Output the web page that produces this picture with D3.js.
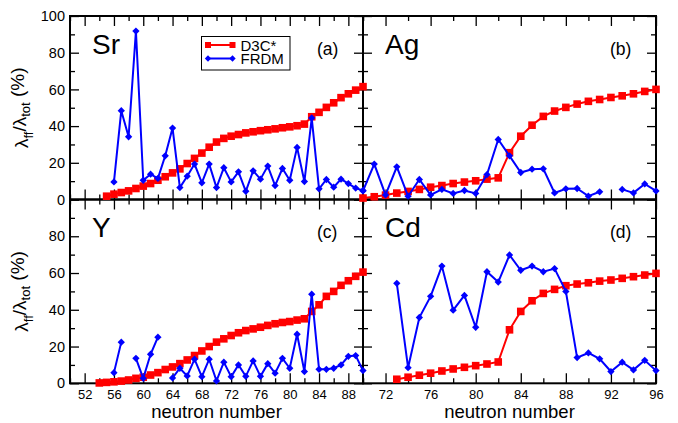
<!DOCTYPE html>
<html>
<head>
<meta charset="utf-8">
<script src="https://cdn.jsdelivr.net/npm/d3@7"></script>
<style>
  html, body { margin: 0; padding: 0; background: #fff; }
  svg { display: block; font-family: "Liberation Sans", Arial, Helvetica, sans-serif; }
</style>
</head>
<body>
<svg id="chart" width="678" height="423"></svg>
<script>
// ---------- DATA ----------
const seriesNames = ["D3C*", "FRDM"];
const panelNames = ["Sr", "Ag", "Y", "Cd"];
const panelTags = ["(a)", "(b)", "(c)", "(d)"];

const srD3cN = [55,56,57,58,59,60,61,62,63,64,65,66,67,68,69,70,71,72,73,74,75,76,77,78,79,80,81,82,83,84,85,86,87,88,89,90];
const srD3c = [1.8,2.9,3.8,4.7,6.0,7.3,8.7,10.5,12.4,14.5,16.7,19.6,22.4,25.3,28.5,31.3,33.3,34.5,35.4,36.3,36.9,37.5,38.0,38.5,39.1,39.6,40.2,41.1,45.1,47.5,50.2,52.7,55.5,57.6,59.6,61.5];
const srFrdmN = [56,57,58,59,60,61,62,63,64,65,66,67,68,69,70,71,72,73,74,75,76,77,78,79,80,81,82,83,84,85,86,87,88,89,90];
const srFrdm = [9.6,48.4,34.2,91.8,10.5,13.8,11.5,23.8,38.9,6.5,12.7,19.3,9.1,19.3,6.5,17.3,9.6,15.1,4.5,15.6,11.1,18.2,7.6,16.9,10.5,28.4,9.8,44.4,5.8,10.9,6.7,11.1,8.7,6.2,4.9];

const agD3cN = [70,71,72,73,74,75,76,77,78,79,80,81,82,83,84,85,86,87,88,89,90,91,92,93,94,95,96];
const agD3c = [0.8,1.5,2.4,3.5,4.4,5.5,6.7,7.6,8.7,9.5,10.2,11.1,11.8,25.5,34.5,40.5,45.3,48.2,50.2,52.0,53.5,54.5,55.6,56.5,57.6,58.9,60.0];
const agFrdmN = [70,71,72,73,74,75,76,77,78,79,80,81,82,83,84,85,86,87,88,89,90,91,92,93,94,95,96];
const agFrdm = [4.7,19.3,2.5,17.8,1.8,10.9,2.5,5.5,3.3,4.9,3.3,13.6,32.7,23.8,14.7,16.5,16.7,3.6,5.8,6.0,1.8,4.2,null,5.5,3.6,8.5,4.7];

const yD3cN = [54,55,56,57,58,59,60,61,62,63,64,65,66,67,68,69,70,71,72,73,74,75,76,77,78,79,80,81,82,83,84,85,86,87,88,89,90];
const yD3c = [0.2,0.5,0.8,1.2,1.8,2.7,3.3,4.5,5.8,7.5,8.9,10.7,12.7,15.1,17.6,20.0,22.4,24.2,26.0,27.5,28.7,29.6,30.5,31.5,32.4,33.1,33.6,34.4,35.1,39.1,42.7,47.3,50.0,53.3,55.8,58.2,60.5];
const yFrdmN = [56,57,58,59,60,61,62,63,64,65,66,67,68,69,70,71,72,73,74,75,76,77,78,79,80,81,82,83,84,85,86,87,88,89,90];
const yFrdm = [5.8,22.4,null,13.6,2.7,15.8,25.1,null,2.9,8.2,4.0,13.1,3.6,13.1,1.3,11.5,3.6,10.0,3.8,12.2,3.8,10.7,5.5,13.6,8.2,26.7,6.4,48.5,7.6,7.6,8.2,10.0,14.7,15.1,6.9];

const cdD3cN = [73,74,75,76,77,78,79,80,81,82,83,84,85,86,87,88,89,90,91,92,93,94,95,96];
const cdD3c = [2.2,3.3,4.4,5.5,6.7,7.8,8.7,9.6,10.5,11.6,29.1,39.1,44.9,48.9,51.1,53.1,54.0,54.7,55.6,56.2,57.1,58.0,58.9,59.8];
const cdFrdmN = [73,74,75,76,77,78,79,80,81,82,83,84,85,86,87,88,89,90,91,92,93,94,95,96];
const cdFrdm = [54.4,8.5,35.8,47.3,63.8,39.8,47.8,30.5,60.7,55.1,69.8,61.5,63.8,60.7,62.4,50.0,14.0,16.5,13.3,6.4,11.5,7.3,12.5,6.9];

const leftXTicksMajor = [52,56,60,64,68,72,76,80,84,88];
const leftXTicksMinor = [50,54,58,62,66,70,74,78,82,86,90];
const rightXTicksMajor = [72,76,80,84,88,92,96];
const rightXTicksMinor = [70,74,78,82,86,90,94];
const yTicksMajor = [0,20,40,60,80,100];
const yTicksMinor = [10,30,50,70,90];
const xTitle = "neutron number";

// ---------- LAYOUT ----------
const svg = d3.select("#chart");
const L = { x0: 70, x1: 363, x2: 656, y0: 16, y1: 199.5, y2: 383.3 };
const RED = "#ff0000", BLUE = "#0000ff";

const xLeft = d3.scaleLinear().domain([50, 90]).range([L.x0, L.x1]);
const xRight = d3.scaleLinear().domain([70, 96]).range([L.x1, L.x2]);
const yTop = d3.scaleLinear().domain([0, 100]).range([L.y1, L.y0]);
const yBot = d3.scaleLinear().domain([0, 100]).range([L.y2, L.y1]);

const panels = [
  { name: panelNames[0], tag: panelTags[0], x: xLeft, y: yTop, d3cN: srD3cN, d3c: srD3c, fN: srFrdmN, f: srFrdm, left: true, bottom: false, top100: true },
  { name: panelNames[1], tag: panelTags[1], x: xRight, y: yTop, d3cN: agD3cN, d3c: agD3c, fN: agFrdmN, f: agFrdm, left: false, bottom: false },
  { name: panelNames[2], tag: panelTags[2], x: xLeft, y: yBot, d3cN: yD3cN, d3c: yD3c, fN: yFrdmN, f: yFrdm, left: true, bottom: true, top100: false },
  { name: panelNames[3], tag: panelTags[3], x: xRight, y: yBot, d3cN: cdD3cN, d3c: cdD3c, fN: cdFrdmN, f: cdFrdm, left: false, bottom: true }
];

const majorLen = 10, minorLen = 5, yMajorLen = 9, yMinorLen = 5;

function styleAxis(g, showLabels, fs) {
  g.select(".domain").remove();
  g.selectAll(".tick line").attr("stroke", "#000").attr("stroke-width", 1.3);
  g.selectAll(".tick text").attr("fill", "#000").style("font-size", fs + "px");
  if (!showLabels) g.selectAll(".tick text").remove();
}

panels.forEach(p => {
  const [xa, xb] = p.x.range();
  const [yb, ya] = p.y.range();
  const g = svg.append("g");

  // bottom axis (ticks inward)
  const gb = g.append("g").attr("transform", `translate(0,${yb})`);
  gb.call(d3.axisBottom(p.x).tickValues(p.left ? leftXTicksMajor : rightXTicksMajor)
      .tickSize(-majorLen).tickPadding(6).tickFormat(d3.format("d")));
  styleAxis(gb, p.bottom, 13);
  const gbm = g.append("g").attr("transform", `translate(0,${yb})`);
  gbm.call(d3.axisBottom(p.x).tickValues(p.left ? leftXTicksMinor : rightXTicksMinor).tickSize(-minorLen).tickFormat(""));
  styleAxis(gbm, false, 13);

  // top axis
  const gt = g.append("g").attr("transform", `translate(0,${ya})`);
  gt.call(d3.axisTop(p.x).tickValues(p.left ? leftXTicksMajor : rightXTicksMajor).tickSize(-majorLen).tickFormat(""));
  styleAxis(gt, false, 13);
  const gtm = g.append("g").attr("transform", `translate(0,${ya})`);
  gtm.call(d3.axisTop(p.x).tickValues(p.left ? leftXTicksMinor : rightXTicksMinor).tickSize(-minorLen).tickFormat(""));
  styleAxis(gtm, false, 13);

  // left axis
  const yLabels = p.left ? (p.top100 ? yTicksMajor : yTicksMajor.filter(v => v < 100)) : [];
  const gl = g.append("g").attr("transform", `translate(${xa},0)`);
  gl.call(d3.axisLeft(p.y).tickValues(yTicksMajor).tickSize(-yMajorLen).tickPadding(5)
      .tickFormat(v => yLabels.includes(v) ? d3.format("d")(v) : ""));
  styleAxis(gl, p.left, 14.5);
  const glm = g.append("g").attr("transform", `translate(${xa},0)`);
  glm.call(d3.axisLeft(p.y).tickValues(yTicksMinor).tickSize(-yMinorLen).tickFormat(""));
  styleAxis(glm, false, 14.5);

  // right axis
  const gr = g.append("g").attr("transform", `translate(${xb},0)`);
  gr.call(d3.axisRight(p.y).tickValues(yTicksMajor).tickSize(-yMajorLen).tickFormat(""));
  styleAxis(gr, false, 14.5);
  const grm = g.append("g").attr("transform", `translate(${xb},0)`);
  grm.call(d3.axisRight(p.y).tickValues(yTicksMinor).tickSize(-yMinorLen).tickFormat(""));
  styleAxis(grm, false, 14.5);

  // frame
  g.append("rect").attr("x", xa).attr("y", ya).attr("width", xb - xa).attr("height", yb - ya)
    .attr("fill", "none").attr("stroke", "#000").attr("stroke-width", 2);

  // panel labels
  g.append("text").attr("x", xa + 22).attr("y", ya + 37.5).text(p.name)
    .style("font-size", "28px").attr("fill", "#000");
  g.append("text").attr("x", xa + 247).attr("y", ya + 38.5).text(p.tag)
    .style("font-size", "17.5px").attr("fill", "#000");
});

// data drawn on top of all frames
panels.forEach(p => {
  const g = svg.append("g");
  const red = p.d3cN.map((n, i) => ({ n, v: p.d3c[i] }));
  const blue = p.fN.map((n, i) => ({ n, v: p.f[i] }));
  const line = d3.line().defined(d => d.v != null).x(d => p.x(d.n)).y(d => p.y(d.v));

  g.append("path").datum(red).attr("d", line).attr("fill", "none").attr("stroke", RED).attr("stroke-width", 2);
  g.selectAll("rect.sq").data(red).join("rect").attr("class", "sq")
    .attr("x", d => p.x(d.n) - 3.8).attr("y", d => p.y(d.v) - 3.8)
    .attr("width", 7.6).attr("height", 7.6).attr("fill", RED);

  g.append("path").datum(blue).attr("d", line).attr("fill", "none").attr("stroke", BLUE).attr("stroke-width", 2);
  g.selectAll("path.dm").data(blue.filter(d => d.v != null)).join("path").attr("class", "dm")
    .attr("d", d3.symbol(d3.symbolDiamond2, 34))
    .attr("transform", d => `translate(${p.x(d.n)},${p.y(d.v)})`)
    .attr("fill", BLUE);
});

// legend
const lg = svg.append("g");
lg.append("rect").attr("x", 201.5).attr("y", 36.5).attr("width", 88.5).attr("height", 33.5)
  .attr("fill", "#fff").attr("stroke", "#000").attr("stroke-width", 1);
[[RED, 45, seriesNames[0]], [BLUE, 58.5, seriesNames[1]]].forEach(([c, yy, t], i) => {
  lg.append("line").attr("x1", 208).attr("x2", 232.5).attr("y1", yy).attr("y2", yy)
    .attr("stroke", c).attr("stroke-width", 2);
  [208, 232.5].forEach(xx => {
    if (i === 0) {
      lg.append("rect").attr("x", xx - 3).attr("y", yy - 3).attr("width", 6).attr("height", 6).attr("fill", c);
    } else {
      lg.append("path").attr("d", d3.symbol(d3.symbolDiamond2, 26)).attr("transform", `translate(${xx},${yy})`).attr("fill", c);
    }
  });
  lg.append("text").attr("x", 240.5).attr("y", yy + 5.6).text(t).style("font-size", "15px").attr("fill", "#000");
});

// axis titles
[xLeft, xRight].forEach(xs => {
  const [a, b] = xs.range();
  svg.append("text").attr("x", (a + b) / 2).attr("y", 418).attr("text-anchor", "middle")
    .style("font-size", "18.5px").attr("fill", "#000").text(xTitle);
});
[yTop, yBot].forEach(ys => {
  const [b, a] = ys.range();
  const t = svg.append("text").attr("transform", `translate(28,${(a + b) / 2}) rotate(-90)`)
    .attr("text-anchor", "middle").style("font-size", "19px").attr("fill", "#000");
  t.append("tspan").text("λ");
  t.append("tspan").attr("dy", "0.35em").style("font-size", "13px").text("ff");
  t.append("tspan").attr("dy", "-0.35em").text("/λ");
  t.append("tspan").attr("dy", "0.35em").style("font-size", "13px").text("tot");
  t.append("tspan").attr("dy", "-0.35em").text(" (%)");
});
</script>
</body>
</html>
